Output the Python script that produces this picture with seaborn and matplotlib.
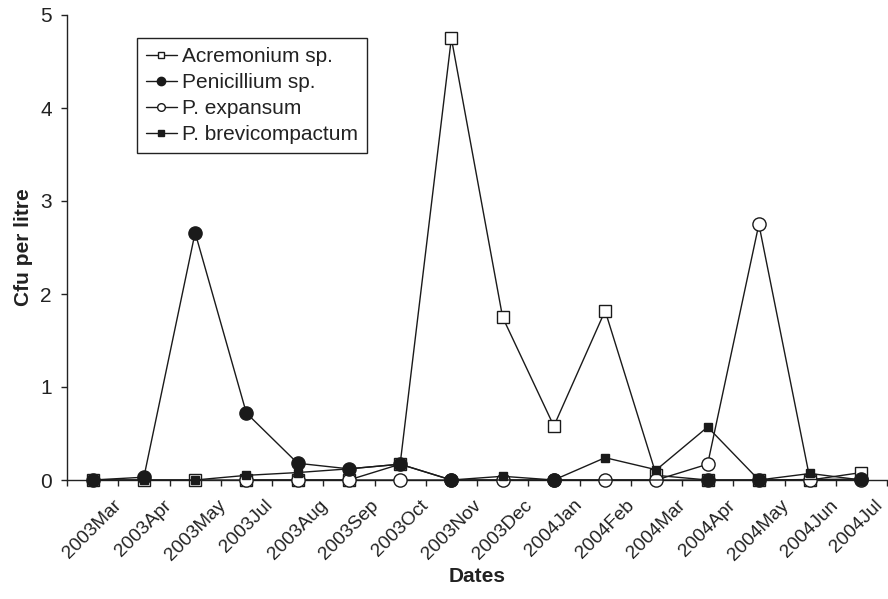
import numpy as np
import pandas as pd
import matplotlib
matplotlib.use("Agg")
import matplotlib.pyplot as plt
import matplotlib.transforms as mtransforms
from matplotlib.lines import Line2D
from matplotlib.ticker import FixedLocator
import seaborn as sns

dates = ["2003Mar", "2003Apr", "2003May", "2003Jul", "2003Aug", "2003Sep",
         "2003Oct", "2003Nov", "2003Dec", "2004Jan", "2004Feb", "2004Mar",
         "2004Apr", "2004May", "2004Jun", "2004Jul"]

acremonium = [0, 0, 0, 0, 0, 0, 0.17, 4.75, 1.75, 0.58, 1.82, 0.05, 0, 0, 0, 0.08]
penicillium = [0, 0.03, 2.66, 0.72, 0.18, 0.12, 0.17, 0, np.nan, 0, np.nan, np.nan, 0, 0, np.nan, 0.01]
p_expansum = [np.nan, np.nan, np.nan, 0, 0, 0, 0, 0, 0, 0, 0, 0, 0.17, 2.75, 0, 0]
p_brevicompactum = [0, 0, 0, 0.05, 0.08, 0.12, 0.17, 0, 0.04, 0, 0.24, 0.11, 0.57, 0, 0.07, 0]

series_names = ["Acremonium sp.", "Penicillium sp.", "P. expansum", "P. brevicompactum"]
series_values = [acremonium, penicillium, p_expansum, p_brevicompactum]

sns.set_theme(style="ticks")
plt.rcParams["font.family"] = ["Liberation Sans", "DejaVu Sans"]

fig = plt.figure(figsize=(8.88, 5.99), dpi=100)
ax = fig.add_axes([67 / 888, 119 / 599, 820 / 888, 465 / 599])

pos = np.arange(len(dates))
styles = {
    "Acremonium sp.": dict(marker="s", markersize=9, markerfacecolor="white", zorder=2),
    "P. expansum": dict(marker="o", markersize=9.5, markerfacecolor="white", zorder=3),
    "Penicillium sp.": dict(marker="o", markersize=9.5, markerfacecolor="#1a1a1a", zorder=4),
    "P. brevicompactum": dict(marker="s", markersize=6, markerfacecolor="#1a1a1a", zorder=5),
}

for name, vals in zip(series_names, series_values):
    df = pd.DataFrame({"pos": pos, "val": vals}).dropna()
    st = styles[name]
    sns.lineplot(data=df, x="pos", y="val", ax=ax, color="#1a1a1a", linewidth=1.0,
                 marker=st["marker"], markersize=st["markersize"],
                 markerfacecolor=st["markerfacecolor"], markeredgecolor="#1a1a1a",
                 markeredgewidth=1.0, zorder=st["zorder"], estimator=None, sort=False,
                 clip_on=False)

ax.set_xlim(-0.5, len(dates) - 0.5)
ax.set_ylim(0, 5)
ax.set_yticks([0, 1, 2, 3, 4, 5])
ax.set_xticks(pos)
ax.set_xticklabels(dates, rotation=45, ha="center", va="top", fontsize=13.7, color="#222222")
ax.xaxis.set_minor_locator(FixedLocator(np.arange(-0.5, len(dates), 1.0)))
ax.tick_params(axis="x", which="major", length=0, pad=12)
ax.tick_params(axis="x", which="minor", length=4, width=1, direction="out", color="#222222")
ax.tick_params(axis="y", which="major", length=4, width=1, direction="out", pad=7,
               labelsize=15, color="#222222", labelcolor="#222222")

# keep the last rotated label inside the canvas
last = ax.get_xticklabels()[-1]
last.set_transform(last.get_transform() + mtransforms.ScaledTranslation(-5 / 100, 0, fig.dpi_scale_trans))

for s in ["top", "right"]:
    ax.spines[s].set_visible(False)
for s in ["left", "bottom"]:
    ax.spines[s].set_linewidth(1.0)
    ax.spines[s].set_color("#222222")

ax.set_xlabel("Dates", fontsize=15, fontweight="bold", color="#222222", labelpad=2)
ax.set_ylabel("Cfu per litre", fontsize=15, fontweight="bold", color="#222222", labelpad=5)

handles = [
    Line2D([], [], color="#1a1a1a", lw=1, marker="s", markersize=5, markerfacecolor="white", markeredgecolor="#1a1a1a"),
    Line2D([], [], color="#1a1a1a", lw=1, marker="o", markersize=6, markerfacecolor="#1a1a1a", markeredgecolor="#1a1a1a"),
    Line2D([], [], color="#1a1a1a", lw=1, marker="o", markersize=5.5, markerfacecolor="white", markeredgecolor="#1a1a1a"),
    Line2D([], [], color="#1a1a1a", lw=1, marker="s", markersize=5, markerfacecolor="#1a1a1a", markeredgecolor="#1a1a1a"),
]
leg = ax.legend(handles, series_names, loc="upper left", bbox_to_anchor=(0.0853, 0.9505),
                borderaxespad=0, frameon=True, fancybox=False, framealpha=1,
                edgecolor="#222222", fontsize=15, handlelength=1.45, handletextpad=0.25,
                labelspacing=0.33, borderpad=0.45)
leg.get_frame().set_linewidth(1.0)
for t in leg.get_texts():
    t.set_color("#222222")

fig.savefig("out.png", dpi=100, facecolor="white")
